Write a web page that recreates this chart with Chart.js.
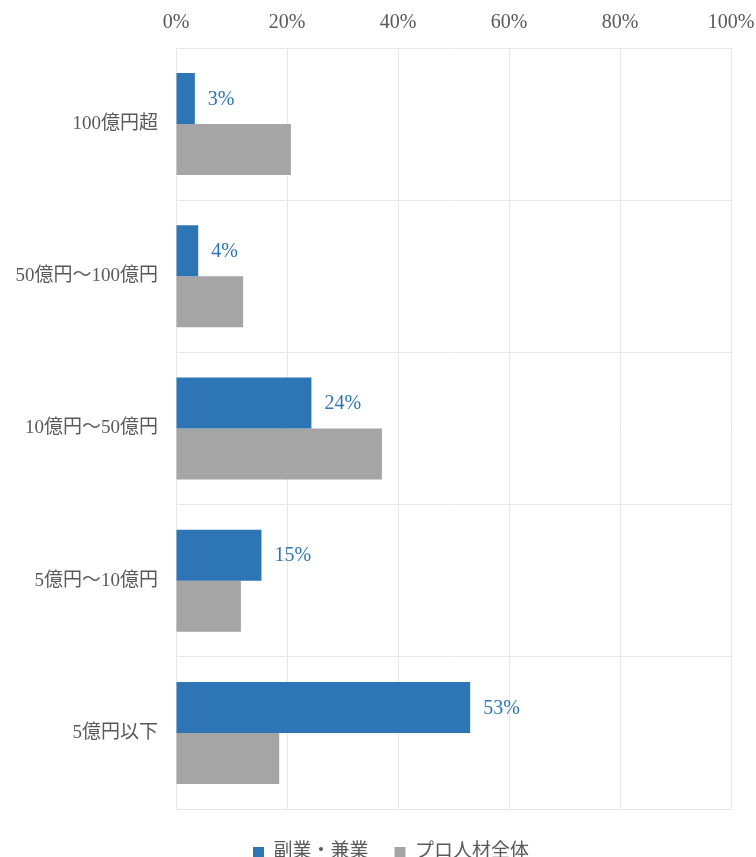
<!DOCTYPE html>
<html>
<head>
<meta charset="utf-8">
<script src="https://cdn.jsdelivr.net/npm/chart.js@4/dist/chart.umd.min.js"></script>
<style>
  html, body { margin: 0; padding: 0; background: #fff; }
  #wrap { width: 756px; height: 857px; }
</style>
</head>
<body>
<div id="wrap"><canvas id="revenueChart" width="756" height="857"></canvas></div>
<script>
var categories = ["100億円超", "50億円～100億円", "10億円～50億円", "5億円～10億円", "5億円以下"];
var sideJob = [3.4, 4.0, 24.4, 15.4, 53.0];
var proAll = [20.7, 12.1, 37.1, 11.7, 18.6];
var xTicks = [0, 20, 40, 60, 80, 100];

var FONT = '"Liberation Serif", "Noto Sans CJK JP", serif';
var TEXT_GRAY = "#595959";

// draws the % labels to the right of the blue bars
var valueLabels = {
    id: "valueLabels",
    afterDatasetsDraw: function (chart) {
        var ctx = chart.ctx;
        var meta = chart.getDatasetMeta(0);
        ctx.save();
        ctx.fillStyle = "#2E75B6";
        ctx.font = "20px " + FONT;
        ctx.textAlign = "left";
        ctx.textBaseline = "middle";
        meta.data.forEach(function (bar, i) {
            ctx.fillText(Math.round(sideJob[i]) + "%", bar.x + 13, bar.y + 1);
        });
        ctx.restore();
    }
};

// legend sits a bit right of the canvas centre in the original
var legendShift = {
    id: "legendShift",
    afterLayout: function (chart) {
        if (chart.legend) {
            chart.legend.left += 13;
            chart.legend.right += 13;
        }
    }
};

var ctx = document.getElementById("revenueChart").getContext("2d");

var data = {
    labels: categories,
    datasets: [
        {
            label: "副業・兼業",
            backgroundColor: "#2E75B6",
            borderWidth: 0,
            categoryPercentage: 0.67,
            barPercentage: 1.0,
            data: sideJob
        },
        {
            label: "プロ人材全体",
            backgroundColor: "#A5A5A5",
            borderWidth: 0,
            categoryPercentage: 0.67,
            barPercentage: 1.0,
            data: proAll
        }
    ]
};

var options = {
    indexAxis: "y",
    responsive: false,
    animation: false,
    layout: {
        padding: { left: 0, right: 0, top: -2, bottom: -15 }
    },
    scales: {
        x: {
            position: "top",
            min: 0,
            max: 100,
            afterBuildTicks: function (axis) {
                axis.ticks = xTicks.map(function (v) { return { value: v }; });
            },
            afterFit: function (scale) {
                scale.paddingLeft = 0;
                scale.paddingRight = 25;
            },
            grid: {
                color: "#E7E7E7",
                lineWidth: 1,
                drawTicks: false
            },
            border: { display: false },
            ticks: {
                color: TEXT_GRAY,
                font: { family: FONT, size: 20 },
                padding: 13,
                callback: function (v) { return v + "%"; }
            }
        },
        y: {
            afterFit: function (scale) {
                scale.width = 176;
            },
            grid: {
                color: "#E7E7E7",
                lineWidth: 1,
                drawTicks: false
            },
            border: { display: false },
            ticks: {
                color: TEXT_GRAY,
                font: { family: FONT, size: 19 },
                padding: 18
            }
        }
    },
    plugins: {
        legend: {
            display: true,
            position: "bottom",
            title: {
                display: true,
                text: "",
                padding: 0,
                font: { size: 8, lineHeight: 1 }
            },
            labels: {
                color: TEXT_GRAY,
                font: { family: FONT, size: 19 },
                boxWidth: 11,
                boxHeight: 11,
                padding: 26
            }
        },
        tooltip: { enabled: false }
    }
};

var barChart = new Chart(ctx, {
    type: "bar",
    data: data,
    options: options,
    plugins: [valueLabels, legendShift]
});
</script>
</body>
</html>
